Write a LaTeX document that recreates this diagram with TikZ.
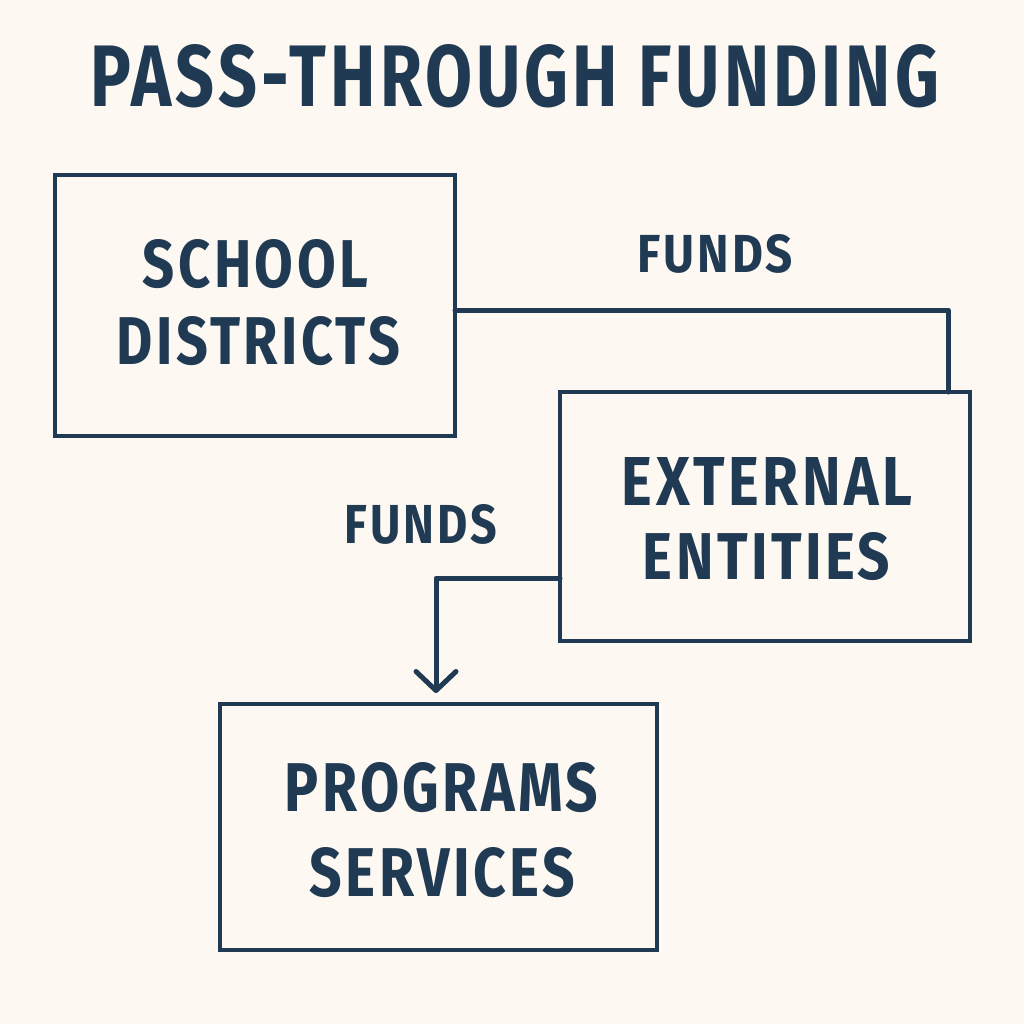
\documentclass[tikz,border=0pt]{standalone}
\usepackage{fontspec}
\setmainfont{Fira Sans}
\newfontfamily\lblfont[LetterSpace=6]{Fira Sans}
\usepackage{graphicx}
\usetikzlibrary{arrows.meta}
\definecolor{bg}{HTML}{FDF8F1}
\definecolor{ink}{HTML}{1F3A52}
\newcommand{\fittxt}[3]{\resizebox{#1pt}{#2pt}{\lblfont\bfseries #3}}
\begin{document}
\begin{tikzpicture}[x=1pt,y=-1pt,
  box/.style={draw=ink, line width=4pt, inner sep=0pt, outer sep=0pt},
  lbl/.style={text=ink, inner sep=0pt, outer sep=0pt, anchor=center},
  link/.style={draw=ink, line width=5pt, line join=round, line cap=round}]
\fill[bg] (0,0) rectangle (1024,1024);
\useasboundingbox (0,0) rectangle (1024,1024);

\node[box, minimum width=400pt, minimum height=261pt] (sd) at (255,305.5) {};
\node[box, minimum width=410pt, minimum height=249pt] (ee) at (765,516.5) {};
\node[box, minimum width=437pt, minimum height=246pt] (ps) at (438.5,827) {};

\node[lbl] (title) at (515,76) {\fittxt{848}{62}{PASS-THROUGH FUNDING}};
\node[lbl] (sd1) at (255.5,264) {\fittxt{225}{48}{SCHOOL}};
\node[lbl] (sd2) at (258.5,341) {\fittxt{283}{48}{DISTRICTS}};
\node[lbl] (ee1) at (767,481) {\fittxt{290}{48}{EXTERNAL}};
\node[lbl] (ee2) at (766.5,556.5) {\fittxt{247}{47}{ENTITIES}};
\node[lbl] (ps1) at (441.5,787.5) {\fittxt{313}{49}{PROGRAMS}};
\node[lbl] (ps2) at (442.5,872.5) {\fittxt{265}{49}{SERVICES}};
\node[lbl] (f1) at (715.5,254) {\fittxt{155}{38}{FUNDS}};
\node[lbl] (f2) at (421,524.5) {\fittxt{152}{39}{FUNDS}};

\draw[link] ([yshift=-4.5pt]sd.east) -| ([xshift=183pt]ee.north);
\draw[link, -{Straight Barb[length=19pt,width=40pt,round]}, shorten >=11pt]
  ([yshift=-61.5pt]ee.west) -| ([xshift=-2.5pt]ps.north);
\end{tikzpicture}
\end{document}
